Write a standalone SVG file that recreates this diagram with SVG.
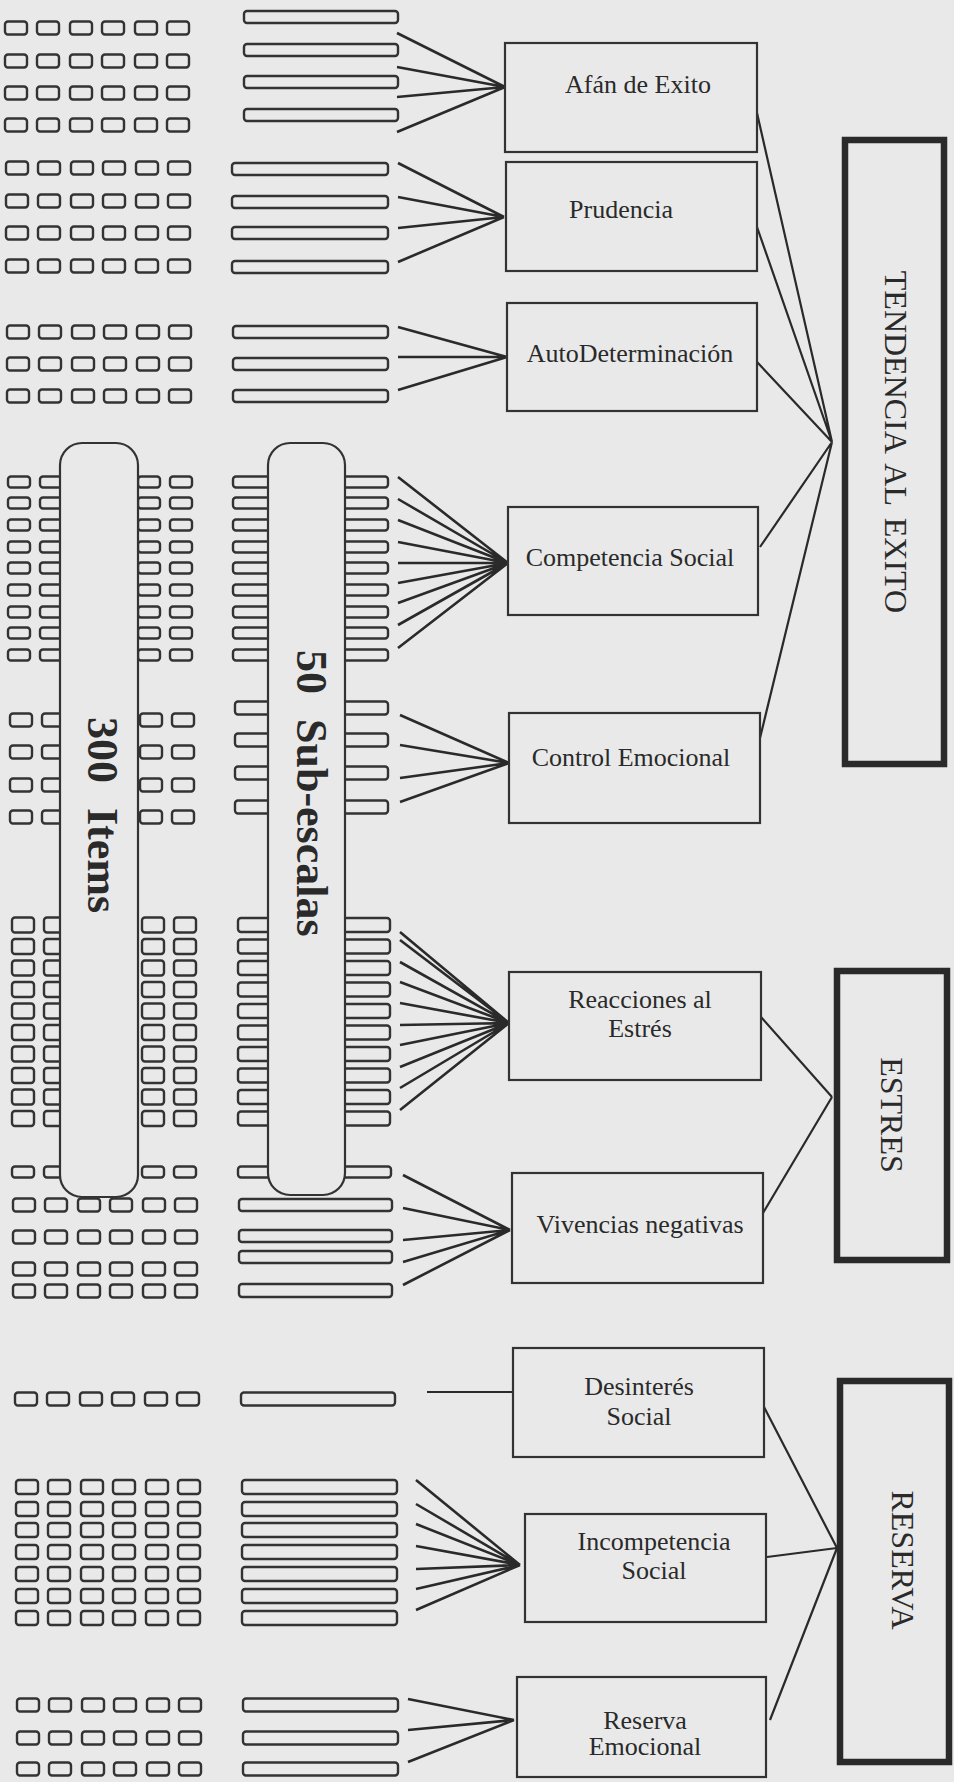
<svg xmlns="http://www.w3.org/2000/svg" xmlns:xlink="http://www.w3.org/1999/xlink" width="954" height="1782" viewBox="0 0 954 1782">
<style>
.bg{fill:#e9e9e9}
.bar{fill:none;stroke:#333;stroke-width:2.4}
.pill{fill:#e9e9e9;stroke:#333;stroke-width:2.2}
.node rect{fill:none;stroke:#333;stroke-width:2.2}
.grp rect{fill:none;stroke:#2a2a2a;stroke-width:6.5}
.lbl{font-family:"Liberation Serif","Times New Roman",serif;font-size:26px;fill:#2a2a2a;text-anchor:middle}
.glbl{font-family:"Liberation Serif","Times New Roman",serif;font-size:32px;fill:#2a2a2a;text-anchor:middle;word-spacing:5px}
.big{font-family:"Liberation Serif","Times New Roman",serif;font-size:44px;font-weight:bold;fill:#2a2a2a;word-spacing:14px}
.fan{fill:none;stroke:#2a2a2a;stroke-width:2.6}
.con{fill:none;stroke:#2a2a2a;stroke-width:2.2}
</style>
<defs>
<g id="r6" fill="none" stroke="#333" stroke-width="2.4">
<rect x="0" y="-6.5" width="22" height="13" rx="3"/><rect x="32" y="-6.5" width="22" height="13" rx="3"/><rect x="65" y="-6.5" width="22" height="13" rx="3"/><rect x="97" y="-6.5" width="22" height="13" rx="3"/><rect x="130" y="-6.5" width="22" height="13" rx="3"/><rect x="162" y="-6.5" width="22" height="13" rx="3"/>
</g>
<g id="r6t" fill="none" stroke="#333" stroke-width="2.4">
<rect x="0" y="-7" width="22" height="14" rx="3"/><rect x="32" y="-7" width="22" height="14" rx="3"/><rect x="65" y="-7" width="22" height="14" rx="3"/><rect x="97" y="-7" width="22" height="14" rx="3"/><rect x="130" y="-7" width="22" height="14" rx="3"/><rect x="162" y="-7" width="22" height="14" rx="3"/>
</g>
<g id="r4s" fill="none" stroke="#333" stroke-width="2.4">
<rect x="0" y="-5.5" width="22" height="11" rx="3"/><rect x="32" y="-5.5" width="22" height="11" rx="3"/><rect x="130" y="-5.5" width="22" height="11" rx="3"/><rect x="162" y="-5.5" width="22" height="11" rx="3"/>
</g>
<g id="r4" fill="none" stroke="#333" stroke-width="2.4">
<rect x="0" y="-6.5" width="22" height="13" rx="3"/><rect x="32" y="-6.5" width="22" height="13" rx="3"/><rect x="130" y="-6.5" width="22" height="13" rx="3"/><rect x="162" y="-6.5" width="22" height="13" rx="3"/>
</g>
<g id="r4t" fill="none" stroke="#333" stroke-width="2.4">
<rect x="0" y="-7.5" width="22" height="15" rx="3"/><rect x="32" y="-7.5" width="22" height="15" rx="3"/><rect x="130" y="-7.5" width="22" height="15" rx="3"/><rect x="162" y="-7.5" width="22" height="15" rx="3"/>
</g>
</defs>
<rect class="bg" x="0" y="0" width="954" height="1782"/>

<g id="items">
<use xlink:href="#r6" x="5" y="28"/><use xlink:href="#r6" x="5" y="61"/><use xlink:href="#r6" x="5" y="93"/><use xlink:href="#r6" x="5" y="125"/>
<use xlink:href="#r6" x="6" y="168"/><use xlink:href="#r6" x="6" y="201"/><use xlink:href="#r6" x="6" y="233"/><use xlink:href="#r6" x="6" y="266"/>
<use xlink:href="#r6" x="7" y="332"/><use xlink:href="#r6" x="7" y="364"/><use xlink:href="#r6" x="7" y="396"/>
<use xlink:href="#r4s" x="8" y="482"/><use xlink:href="#r4s" x="8" y="503"/><use xlink:href="#r4s" x="8" y="525"/><use xlink:href="#r4s" x="8" y="547"/><use xlink:href="#r4s" x="8" y="568"/><use xlink:href="#r4s" x="8" y="590"/><use xlink:href="#r4s" x="8" y="612"/><use xlink:href="#r4s" x="8" y="633"/><use xlink:href="#r4s" x="8" y="655"/>
<use xlink:href="#r4" x="10" y="720"/><use xlink:href="#r4" x="10" y="752"/><use xlink:href="#r4" x="10" y="785"/><use xlink:href="#r4" x="10" y="817"/>
<use xlink:href="#r4t" x="12" y="925"/><use xlink:href="#r4t" x="12" y="946.5"/><use xlink:href="#r4t" x="12" y="968"/><use xlink:href="#r4t" x="12" y="989.5"/><use xlink:href="#r4t" x="12" y="1011"/><use xlink:href="#r4t" x="12" y="1032.5"/><use xlink:href="#r4t" x="12" y="1054"/><use xlink:href="#r4t" x="12" y="1075.5"/><use xlink:href="#r4t" x="12" y="1097"/><use xlink:href="#r4t" x="12" y="1118.5"/>
<use xlink:href="#r4s" x="12" y="1172"/>
<use xlink:href="#r6" x="13" y="1205"/><use xlink:href="#r6" x="13" y="1237"/><use xlink:href="#r6" x="13" y="1269"/><use xlink:href="#r6" x="13" y="1291"/>
<use xlink:href="#r6" x="15" y="1399"/>
<use xlink:href="#r6t" x="16" y="1487"/><use xlink:href="#r6t" x="16" y="1509"/><use xlink:href="#r6t" x="16" y="1530"/><use xlink:href="#r6t" x="16" y="1552"/><use xlink:href="#r6t" x="16" y="1574"/><use xlink:href="#r6t" x="16" y="1596"/><use xlink:href="#r6t" x="16" y="1618"/>
<use xlink:href="#r6" x="17" y="1705"/><use xlink:href="#r6" x="17" y="1738"/><use xlink:href="#r6" x="17" y="1769"/>
</g>

<g id="subscales">
<rect class="bar" x="244" y="11" width="154" height="12" rx="3"/><rect class="bar" x="244" y="44" width="154" height="12" rx="3"/><rect class="bar" x="244" y="76" width="154" height="12" rx="3"/><rect class="bar" x="244" y="109" width="154" height="12" rx="3"/>
<rect class="bar" x="232" y="163" width="156" height="12" rx="3"/><rect class="bar" x="232" y="196" width="156" height="12" rx="3"/><rect class="bar" x="232" y="227" width="156" height="12" rx="3"/><rect class="bar" x="232" y="261" width="156" height="12" rx="3"/>
<rect class="bar" x="233" y="326" width="155" height="12" rx="3"/><rect class="bar" x="233" y="358" width="155" height="12" rx="3"/><rect class="bar" x="233" y="390" width="155" height="12" rx="3"/>
<rect class="bar" x="233" y="476.5" width="155" height="11" rx="3"/><rect class="bar" x="233" y="497.5" width="155" height="11" rx="3"/><rect class="bar" x="233" y="519.5" width="155" height="11" rx="3"/><rect class="bar" x="233" y="541.5" width="155" height="11" rx="3"/><rect class="bar" x="233" y="562.5" width="155" height="11" rx="3"/><rect class="bar" x="233" y="584.5" width="155" height="11" rx="3"/><rect class="bar" x="233" y="606.5" width="155" height="11" rx="3"/><rect class="bar" x="233" y="627.5" width="155" height="11" rx="3"/><rect class="bar" x="233" y="649.5" width="155" height="11" rx="3"/>
<rect class="bar" x="235" y="701.5" width="153" height="13" rx="3"/><rect class="bar" x="235" y="733.5" width="153" height="13" rx="3"/><rect class="bar" x="235" y="766.5" width="153" height="13" rx="3"/><rect class="bar" x="235" y="800.5" width="153" height="13" rx="3"/>
<rect class="bar" x="238" y="918" width="152" height="14" rx="3"/><rect class="bar" x="238" y="939.5" width="152" height="14" rx="3"/><rect class="bar" x="238" y="961" width="152" height="14" rx="3"/><rect class="bar" x="238" y="982.5" width="152" height="14" rx="3"/><rect class="bar" x="238" y="1004" width="152" height="14" rx="3"/><rect class="bar" x="238" y="1025.5" width="152" height="14" rx="3"/><rect class="bar" x="238" y="1047" width="152" height="14" rx="3"/><rect class="bar" x="238" y="1068.5" width="152" height="14" rx="3"/><rect class="bar" x="238" y="1090" width="152" height="14" rx="3"/><rect class="bar" x="238" y="1111.5" width="152" height="14" rx="3"/>
<rect class="bar" x="238" y="1166.5" width="153" height="11" rx="3"/>
<rect class="bar" x="239" y="1199" width="153" height="12" rx="3"/><rect class="bar" x="239" y="1230" width="153" height="12" rx="3"/><rect class="bar" x="239" y="1251" width="153" height="12" rx="3"/><rect class="bar" x="239" y="1284" width="153" height="13" rx="3"/>
<rect class="bar" x="241" y="1392.5" width="154" height="13" rx="3"/>
<rect class="bar" x="242" y="1480" width="155" height="14" rx="3"/><rect class="bar" x="242" y="1502" width="155" height="14" rx="3"/><rect class="bar" x="242" y="1523" width="155" height="14" rx="3"/><rect class="bar" x="242" y="1545" width="155" height="14" rx="3"/><rect class="bar" x="242" y="1567" width="155" height="14" rx="3"/><rect class="bar" x="242" y="1589" width="155" height="14" rx="3"/><rect class="bar" x="242" y="1611" width="155" height="14" rx="3"/>
<rect class="bar" x="243" y="1698.5" width="155" height="13" rx="3"/><rect class="bar" x="243" y="1731.5" width="155" height="13" rx="3"/><rect class="bar" x="243" y="1762.5" width="155" height="13" rx="3"/>
</g>

<g id="items-pill">
<rect class="pill" x="60" y="443" width="78" height="754" rx="22"/>
<text class="big" transform="translate(88,717) rotate(90)">300 Items</text>
</g>
<g id="subscales-pill">
<rect class="pill" x="268" y="443" width="77" height="752" rx="22"/>
<text class="big" transform="translate(297,650) rotate(90)">50 Sub-escalas</text>
</g>

<g id="connectors">
<path class="fan" d="M397,33L505,87M397,67L505,87M397,97L505,87M397,132L505,87"/>
<path class="fan" d="M398,163L504,217M398,197L504,217M398,228L504,217M398,262L504,217"/>
<path class="fan" d="M398,327L507,357M398,357L507,357M398,390L507,357"/>
<path class="fan" d="M398,477L508,563M398,499L508,563M398,520L508,563M398,542L508,563M398,563L508,563M398,583L508,563M398,603L508,563M398,625L508,563M398,648L508,563"/>
<path class="fan" d="M400,715L509,763M400,745L509,763M400,778L509,763M400,802L509,763"/>
<path class="fan" d="M400,932L509,1023M400,940L509,1023M400,962L509,1023M400,982L509,1023M400,1003L509,1023M400,1025L509,1023M400,1045L509,1023M400,1067L509,1023M400,1088L509,1023M400,1110L509,1023"/>
<path class="fan" d="M403,1175L510,1230M403,1208L510,1230M403,1240L510,1230M403,1262L510,1230M403,1285L510,1230"/>
<path class="con" d="M427,1392L512,1392"/>
<path class="fan" d="M416,1480L520,1565M416,1504L520,1565M416,1524L520,1565M416,1546L520,1565M416,1569L520,1565M416,1589L520,1565M416,1610L520,1565"/>
<path class="fan" d="M408,1699L514,1720M408,1730L514,1720M408,1762L514,1720"/>
<path class="con" d="M757,113L832,442M757,227L832,442M757,362L832,442M760,547L832,442M760,738L832,442"/>
<path class="con" d="M761,1017L832,1097M763,1213L832,1097"/>
<path class="con" d="M764,1407L837,1548M767,1557L837,1548M770,1720L837,1548"/>
</g>

<g id="n-afan" class="node"><rect x="505" y="43" width="252" height="109"/><text class="lbl" x="638" y="93">Afán de Exito</text></g>
<g id="n-prudencia" class="node"><rect x="506" y="162" width="251" height="109"/><text class="lbl" x="621" y="218">Prudencia</text></g>
<g id="n-autodet" class="node"><rect x="507" y="303" width="250" height="108"/><text class="lbl" x="630" y="362">AutoDeterminación</text></g>
<g id="n-competencia" class="node"><rect x="508" y="507" width="250" height="108"/><text class="lbl" x="630" y="566">Competencia Social</text></g>
<g id="n-control" class="node"><rect x="509" y="713" width="251" height="110"/><text class="lbl" x="631" y="766">Control Emocional</text></g>
<g id="n-reacciones" class="node"><rect x="509" y="972" width="252" height="108"/><text class="lbl" x="640" y="1008">Reacciones al</text><text class="lbl" x="640" y="1037">Estrés</text></g>
<g id="n-vivencias" class="node"><rect x="512" y="1173" width="251" height="110"/><text class="lbl" x="640" y="1233">Vivencias negativas</text></g>
<g id="n-desinteres" class="node"><rect x="513" y="1348" width="251" height="109"/><text class="lbl" x="639" y="1395">Desinterés</text><text class="lbl" x="639" y="1425">Social</text></g>
<g id="n-incompetencia" class="node"><rect x="525" y="1514" width="241" height="108"/><text class="lbl" x="654" y="1550">Incompetencia</text><text class="lbl" x="654" y="1579">Social</text></g>
<g id="n-reservaemo" class="node"><rect x="517" y="1677" width="249" height="100"/><text class="lbl" x="645" y="1729">Reserva</text><text class="lbl" x="645" y="1755">Emocional</text></g>

<g id="g-tendencia" class="grp"><rect x="845" y="140" width="99" height="624"/><text class="glbl" transform="translate(885,442) rotate(90)">TENDENCIA AL EXITO</text></g>
<g id="g-estres" class="grp"><rect x="837" y="971" width="110" height="289"/><text class="glbl" transform="translate(881,1115) rotate(90)">ESTRES</text></g>
<g id="g-reserva" class="grp"><rect x="840" y="1381" width="109" height="381"/><text class="glbl" transform="translate(892,1560) rotate(90)">RESERVA</text></g>
</svg>
